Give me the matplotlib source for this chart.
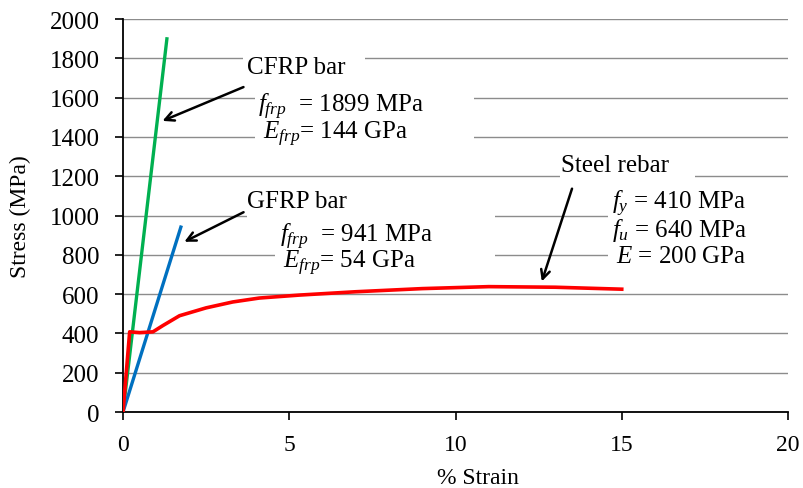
import matplotlib
matplotlib.use("Agg")
import matplotlib.pyplot as plt
from matplotlib.patches import Rectangle

plt.rcParams['font.family'] = ['Liberation Serif', 'DejaVu Serif']
plt.rcParams['mathtext.fontset'] = 'custom'
plt.rcParams['mathtext.rm'] = 'Liberation Serif'
plt.rcParams['mathtext.it'] = 'Liberation Serif:italic'

# data
cfrp_strain = [0, 1.32]
cfrp_stress = [0, 1899]
gfrp_strain = [0, 1.74]
gfrp_stress = [0, 941]
steel_strain = [0, 0.2, 0.5, 0.9, 1.2, 1.7, 2.5, 3.3, 4.1, 5.3, 7, 9, 11, 13, 15]
steel_stress = [0, 408, 404, 408, 440, 490, 530, 560, 580, 595, 612, 628, 638, 635, 625]

x_ticks = [0, 5, 10, 15, 20]
y_ticks = list(range(0, 2001, 200))

fig = plt.figure(figsize=(8.04, 4.89), dpi=100)
ax = fig.add_axes([0.153, 0.1554, 0.8271, 0.8037])

ax.set_xlim(0, 20)
ax.set_ylim(0, 2000)
ax.set_xticks(x_ticks)
ax.set_yticks(y_ticks)
ax.set_axisbelow(True)
ax.yaxis.grid(True, color='#8c8c8c', lw=1.0)
ax.tick_params(axis='both', direction='out', length=6, width=1.2, color='black')
ax.tick_params(axis='y', pad=11, labelsize=18)
ax.tick_params(axis='x', pad=10, labelsize=17)
for s in ['top', 'right']:
    ax.spines[s].set_visible(False)
for s in ['left', 'bottom']:
    ax.spines[s].set_linewidth(1.3)

# white text boxes that break the gridlines
boxes = [(3.61, 1700, 3.67, 200), (3.97, 1300, 6.59, 400),
         (3.73, 900, 7.46, 200), (4.57, 700, 6.62, 200),
         (13.14, 1100, 4.06, 200), (14.59, 700, 5.6, 400)]
for bx, by, bw, bh in boxes:
    ax.add_patch(Rectangle((bx, by), bw, bh, facecolor='white', edgecolor='none', zorder=1))

ax.plot(cfrp_strain, cfrp_stress, color='#00b050', lw=2.4, zorder=3)
ax.plot(gfrp_strain, gfrp_stress, color='#0070c0', lw=2.4, zorder=3)
ax.plot(steel_strain, steel_stress, color='#ff0000', lw=2.6, zorder=3)

fs = 18
kw = dict(fontsize=fs, va='baseline')
ax.text(3.73, 1725, 'CFRP bar', **kw)
ax.text(4.06, 1532, r'$f_{frp}$  = 1899 MPa', **kw)
ax.text(4.21, 1394, r'$E_{frp}$= 144 GPa', **kw)
ax.text(3.73, 1043, 'GFRP bar', **kw)
ax.text(4.72, 870, r'$f_{frp}$  = 941 MPa', **kw)
ax.text(4.81, 738, r'$E_{frp}$= 54 GPa', **kw)
ax.text(13.17, 1226, 'Steel rebar', **kw)
ax.text(14.71, 1038, r'$f_y$ = 410 MPa', **kw)
ax.text(14.71, 896, r'$f_u$ = 640 MPa', **kw)
ax.text(14.83, 763, r'$E$ = 200 GPa', **kw)

arrow = dict(arrowstyle='->', color='black', lw=1.8, mutation_scale=16)
ax.annotate('', xy=(1.11, 1476), xytext=(3.70, 1659), arrowprops=arrow, zorder=4)
ax.annotate('', xy=(1.77, 860), xytext=(3.70, 1023), arrowprops=arrow, zorder=4)
ax.annotate('', xy=(12.57, 651), xytext=(13.53, 1150), arrowprops=arrow, zorder=4)

ax.set_ylabel('Stress (MPa)', fontsize=17)
ax.yaxis.set_label_coords(-0.138, 0.5)
ax.set_xlabel('% Strain', fontsize=17)
ax.xaxis.set_label_coords(0.534, -0.14)

fig.savefig('out.png', dpi=100)
